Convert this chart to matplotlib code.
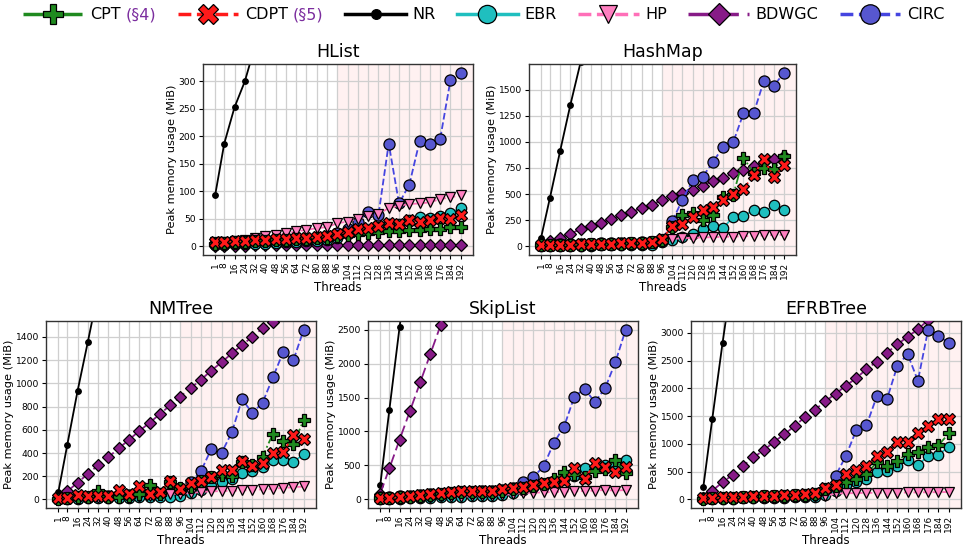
import matplotlib
matplotlib.use("Agg")
import matplotlib.pyplot as plt

plt.rcParams["font.family"] = ["DejaVu Sans"]

threads = [1, 8, 16, 24, 32, 40, 48, 56, 64, 72, 80, 88, 96,
           104, 112, 120, 128, 136, 144, 152, 160, 168, 176, 184, 192]

# --- HList ---
hlist_cpt = [5, 6, 7, 8, 9, 10, 11, 12, 13, 14, 15, 16, 18, 20, 22, 24, 26, 27, 28, 29, 30, 31, 32, 35, 36]
hlist_cdpt = [7, 8, 9, 10, 11, 12, 13, 14, 15, 16, 17, 19, 22, 26, 31, 33, 37, 42, 40, 47, 45, 48, 52, 50, 57]
hlist_nr = [94, 187, 253, 300, 365, 430]
hlist_ebr = [3, 3, 4, 4, 5, 5, 6, 7, 8, 9, 10, 12, 15, 22, 30, 30, 36, 40, 40, 48, 53, 52, 55, 60, 70]
hlist_hp = [7, 8, 10, 12, 15, 18, 21, 24, 27, 30, 33, 35, 42, 45, 50, 55, 58, 70, 74, 77, 78, 80, 86, 89, 93]
hlist_bdwgc = [1, 1, 1, 1, 2, 2, 2, 2, 2, 2, 2, 2, 2, 2, 2, 2, 2, 2, 2, 2, 2, 2, 2, 2, 3]
hlist_circ = [4, 5, 6, 7, 8, 9, 10, 11, 12, 14, 16, 19, 25, 32, 45, 62, 57, 187, 78, 112, 191, 187, 195, 302, 316]

# --- HashMap ---
hashmap_cpt = [8, 10, 12, 14, 16, 18, 20, 23, 26, 30, 33, 38, 65, 185, 300, 315, 250, 300, 470, 490, 850, 700, 747, 737, 860]
hashmap_cdpt = [10, 12, 14, 16, 18, 20, 22, 25, 28, 32, 35, 40, 70, 192, 218, 276, 347, 373, 445, 503, 552, 679, 834, 666, 776]
hashmap_nr = [84, 467, 915, 1354, 1760, 2200]
hashmap_ebr = [2, 3, 4, 5, 6, 7, 8, 9, 10, 12, 14, 17, 40, 62, 94, 120, 169, 195, 175, 282, 289, 347, 325, 396, 347]
hashmap_hp = [3, 5, 7, 9, 11, 13, 15, 17, 20, 23, 26, 30, 40, 70, 78, 82, 85, 88, 90, 93, 96, 100, 104, 108, 110]
hashmap_bdwgc = [10, 50, 80, 120, 165, 190, 225, 260, 295, 330, 365, 400, 440, 477, 510, 542, 580, 625, 655, 700, 735, 770, 805, 840, 860]
hashmap_circ = [10, 15, 18, 20, 22, 25, 28, 30, 32, 35, 38, 42, 50, 238, 445, 630, 666, 808, 948, 997, 1273, 1273, 1581, 1539, 1662]

# --- NMTree ---
nmtree_cpt = [5, 10, 25, 20, 70, 25, 25, 30, 45, 128, 50, 150, 95, 110, 155, 190, 210, 200, 320, 300, 370, 565, 505, 480, 685]
nmtree_cdpt = [14, 14, 37, 26, 29, 29, 86, 43, 114, 51, 66, 160, 94, 143, 157, 191, 251, 251, 334, 286, 314, 400, 409, 551, 523]
nmtree_nr = [63, 471, 934, 1357, 1790]
nmtree_ebr = [5, 5, 8, 10, 12, 13, 15, 17, 18, 20, 22, 25, 30, 60, 85, 120, 149, 180, 229, 243, 277, 337, 337, 320, 394]
nmtree_hp = [3, 5, 7, 9, 11, 13, 16, 19, 22, 26, 35, 48, 50, 55, 65, 70, 72, 75, 78, 82, 88, 92, 100, 105, 112]
nmtree_bdwgc = [5, 70, 145, 220, 295, 365, 440, 514, 590, 660, 735, 810, 886, 960, 1030, 1110, 1180, 1257, 1330, 1400, 1475, 1530, 1610, 1680, 1760]
nmtree_circ = [5, 10, 15, 18, 22, 26, 30, 35, 40, 45, 50, 60, 80, 148, 243, 434, 400, 577, 863, 743, 834, 1051, 1269, 1200, 1463]

# --- SkipList ---
skiplist_cpt = [15, 15, 30, 40, 55, 70, 85, 95, 105, 115, 115, 115, 130, 155, 175, 200, 225, 300, 400, 370, 330, 420, 450, 580, 385]
skiplist_cdpt = [20, 20, 34, 49, 69, 83, 98, 108, 118, 132, 132, 132, 147, 172, 191, 216, 240, 255, 265, 466, 304, 539, 475, 402, 475]
skiplist_nr = [216, 1312, 2538, 3700]
skiplist_ebr = [5, 5, 10, 15, 20, 25, 30, 35, 40, 45, 50, 55, 65, 90, 140, 190, 220, 270, 300, 350, 470, 460, 510, 520, 580]
skiplist_hp = [5, 8, 12, 16, 20, 25, 30, 35, 40, 45, 50, 55, 65, 80, 95, 100, 105, 110, 115, 120, 125, 130, 140, 130, 140]
skiplist_bdwgc = [86, 457, 880, 1298, 1721, 2144, 2567, 2990, 3410]
skiplist_circ = [40, 30, 45, 55, 65, 75, 85, 95, 105, 115, 120, 125, 135, 170, 264, 327, 486, 832, 1072, 1514, 1625, 1433, 1639, 2024, 2500]

# --- EFRBTree ---
efrbtree_cpt = [12, 18, 28, 34, 40, 48, 55, 60, 70, 78, 88, 100, 180, 238, 321, 369, 458, 667, 595, 696, 827, 863, 952, 976, 1190]
efrbtree_cdpt = [18, 24, 36, 42, 48, 60, 65, 71, 83, 89, 101, 113, 202, 268, 464, 524, 595, 774, 851, 1035, 1041, 1190, 1327, 1446, 1446]
efrbtree_nr = [220, 1452, 2821, 4100]
efrbtree_ebr = [5, 8, 12, 15, 18, 22, 26, 30, 35, 40, 45, 50, 80, 160, 268, 310, 369, 500, 518, 607, 708, 619, 786, 804, 952]
efrbtree_hp = [5, 8, 12, 15, 18, 22, 26, 30, 35, 40, 45, 52, 65, 110, 112, 115, 118, 120, 122, 124, 126, 128, 130, 132, 135]
efrbtree_bdwgc = [20, 160, 310, 446, 607, 756, 887, 1036, 1173, 1321, 1482, 1619, 1768, 1905, 2048, 2185, 2345, 2482, 2643, 2792, 2929, 3065, 3230, 3380, 3530]
efrbtree_circ = [20, 25, 30, 35, 40, 45, 50, 55, 60, 70, 80, 95, 150, 429, 786, 1244, 1333, 1857, 1810, 2405, 2619, 2137, 3060, 2946, 2821]

names = ["CPT", "CDPT", "NR", "EBR", "HP", "BDWGC", "CIRC"]
labels = ["CPT (§4)", "CDPT (§5)", "NR", "EBR", "HP", "BDWGC", "CIRC"]
draw_order = ["NR", "BDWGC", "CIRC", "EBR", "HP", "CPT", "CDPT"]

styles = {
    "CPT": dict(color="#1f8a1f", marker="P", ls="-.", ms=8),
    "CDPT": dict(color="#ff1a1a", marker="X", ls="--", ms=8),
    "NR": dict(color="black", marker="o", ls="-", ms=4),
    "EBR": dict(color="#1fbfbf", marker="o", ls="-", ms=7.5),
    "HP": dict(color="#ff7fc0", marker="v", ls="--", ms=7.5),
    "BDWGC": dict(color="#871b87", marker="D", ls=(0, (6, 2.5)), ms=6.5),
    "CIRC": dict(color="#5757d0", marker="o", ls="--", ms=8),
}
line_colors = {"CIRC": "#4545e0", "HP": "#ff6fb8"}

panels = [
    ("HList", [0.2099, 0.5321, 0.2792, 0.3505],
     dict(CPT=hlist_cpt, CDPT=hlist_cdpt, NR=hlist_nr, EBR=hlist_ebr, HP=hlist_hp, BDWGC=hlist_bdwgc, CIRC=hlist_circ)),
    ("HashMap", [0.5470, 0.5321, 0.2765, 0.3505],
     dict(CPT=hashmap_cpt, CDPT=hashmap_cdpt, NR=hashmap_nr, EBR=hashmap_ebr, HP=hashmap_hp, BDWGC=hashmap_bdwgc, CIRC=hashmap_circ)),
    ("NMTree", [0.0476, 0.0679, 0.2792, 0.3431],
     dict(CPT=nmtree_cpt, CDPT=nmtree_cdpt, NR=nmtree_nr, EBR=nmtree_ebr, HP=nmtree_hp, BDWGC=nmtree_bdwgc, CIRC=nmtree_circ)),
    ("SkipList", [0.3806, 0.0679, 0.2792, 0.3431],
     dict(CPT=skiplist_cpt, CDPT=skiplist_cdpt, NR=skiplist_nr, EBR=skiplist_ebr, HP=skiplist_hp, BDWGC=skiplist_bdwgc, CIRC=skiplist_circ)),
    ("EFRBTree", [0.7146, 0.0679, 0.2792, 0.3431],
     dict(CPT=efrbtree_cpt, CDPT=efrbtree_cdpt, NR=efrbtree_nr, EBR=efrbtree_ebr, HP=efrbtree_hp, BDWGC=efrbtree_bdwgc, CIRC=efrbtree_circ)),
]

fig = plt.figure(figsize=(9.67, 5.45), dpi=100)

span = threads[-1] - threads[0]
x_lo = threads[0] - 0.05 * span
x_hi = threads[-1] + 0.05 * span

handles = {}
for title, rect, data in panels:
    ax = fig.add_axes(rect)
    ax.axvspan(96, x_hi, color="#fff1f1", zorder=0.1, lw=0)
    for z, name in enumerate(draw_order):
        vals = data[name]
        st = styles[name]
        ln, = ax.plot(threads[:len(vals)], vals, ls=st["ls"], lw=1.3,
                      color=line_colors.get(name, st["color"]),
                      marker=st["marker"], ms=st["ms"],
                      mfc=st["color"], mec="black", mew=0.9, zorder=2 + z)
        handles[name] = ln
    # y-range follows the highest bounded series, NR/BDWGC run off the top
    top = max(max(data[k]) for k in ("CPT", "CDPT", "EBR", "HP", "CIRC"))
    ax.set_ylim(-0.05 * top, 1.05 * top)
    ax.set_xlim(x_lo, x_hi)
    ax.set_xticks(threads)
    ax.set_xticklabels([str(t) for t in threads], rotation=90, fontsize=6.5)
    ax.tick_params(axis="y", labelsize=6.6, length=3, pad=2)
    ax.tick_params(axis="x", length=3, pad=2)
    ax.grid(True, color="#cfcfcf", lw=0.9, zorder=0.5)
    ax.set_axisbelow(True)
    for sp in ax.spines.values():
        sp.set_color("#333333")
        sp.set_linewidth(1.0)
    ax.set_title(title, fontsize=12.5, pad=5)
    ax.set_xlabel("Threads", fontsize=8.5, labelpad=1)
    ax.set_ylabel("Peak memory usage (MiB)", fontsize=8.2, labelpad=1)

leg = fig.legend([handles[n] for n in names], labels, loc="center",
                 bbox_to_anchor=(0.5, 0.973), ncol=7, frameon=False,
                 fontsize=11.5, markerscale=1.75, handlelength=3.8,
                 handletextpad=0.4, columnspacing=1.35)
for ln in leg.get_lines():
    ln.set_linewidth(2.5)

# colour the section references in purple
fig.canvas.draw()
renderer = fig.canvas.get_renderer()
inv = fig.transFigure.inverted()
for t in leg.get_texts():
    s = t.get_text()
    if "§" not in s:
        continue
    head, ref = s.split(" ", 1)
    bb = t.get_window_extent(renderer)
    bx, by = t.get_transform().transform(t.get_position())
    x0, y0 = inv.transform((bb.x0, by))
    x1, _ = inv.transform((bb.x1, by))
    t.set_visible(False)
    fig.text(x0, y0, head, fontsize=11.5, ha="left", va="baseline", color="black")
    fig.text(x1, y0, ref, fontsize=11.5, ha="right", va="baseline", color="#7b2d9e")

fig.savefig("out.png", dpi=100)
